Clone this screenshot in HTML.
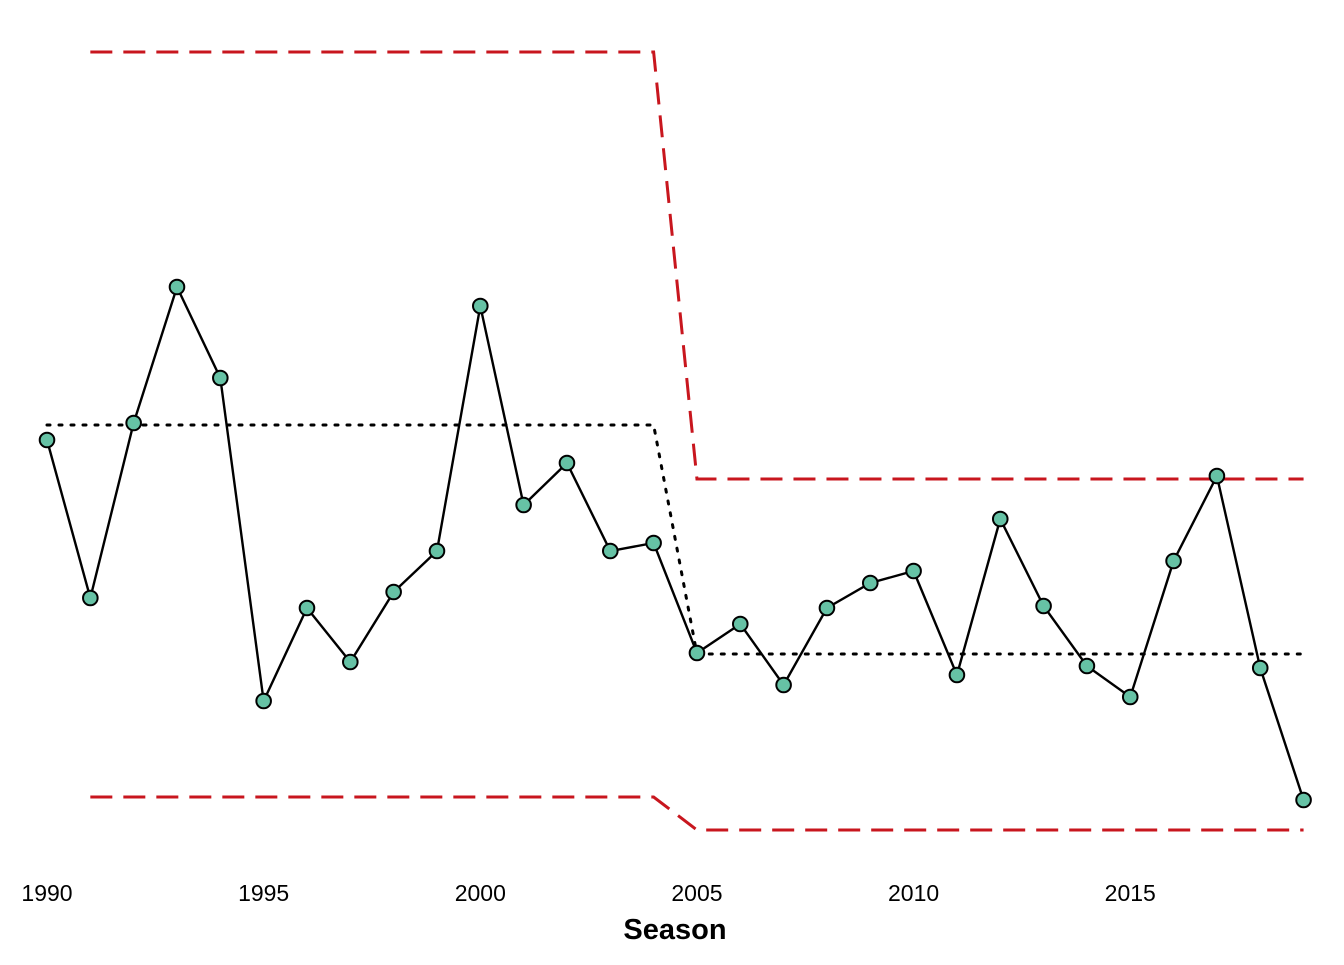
<!DOCTYPE html>
<html><head><meta charset="utf-8"><style>
html,body{margin:0;padding:0;background:#fff}
svg text{font-family:"Liberation Sans",Arial,sans-serif}
</style></head><body>
<svg id="chart" width="1344" height="960" xmlns="http://www.w3.org/2000/svg"></svg>
<script>
const seasons=[1990,1991,1992,1993,1994,1995,1996,1997,1998,1999,2000,2001,2002,2003,2004,2005,2006,2007,2008,2009,2010,2011,2012,2013,2014,2015,2016,2017,2018,2019];
const values=[46.0,30.2,47.7,61.3,52.2,19.9,29.2,23.8,30.8,34.9,59.4,39.5,43.7,34.9,35.7,24.7,27.6,21.5,29.2,31.7,32.9,22.5,38.1,29.4,23.4,20.3,33.9,42.4,23.2,10.0];
const meanSeasons=[1990,2004,2005,2019];
const meanValues=[47.5,47.5,24.6,24.6];
const uclSeasons=[1991,2004,2005,2019];
const uclValues=[84.8,84.8,42.1,42.1];
const lclSeasons=[1991,2004,2005,2019];
const lclValues=[10.3,10.3,7.0,7.0];
const tickYears=[1990,1995,2000,2005,2010,2015];

const NS="http://www.w3.org/2000/svg";
const svg=document.getElementById('chart');
const x=yr=>47+(yr-1990)*43.33;
const y=v=>900-v*10;
function el(tag,attrs){const e=document.createElementNS(NS,tag);for(const k in attrs)e.setAttribute(k,attrs[k]);svg.appendChild(e);return e;}
function pts(xs,vs){return xs.map((s,i)=>x(s)+','+y(vs[i])).join(' ');}

let e;
e=el('polyline',{points:pts(uclSeasons,uclValues),fill:'none',stroke:'#c8161e','stroke-width':3,'stroke-dasharray':'22,11'});


e=el('polyline',{points:pts(lclSeasons,lclValues),fill:'none',stroke:'#c8161e','stroke-width':3,'stroke-dasharray':'22,11'});


e=el('polyline',{points:pts(meanSeasons,meanValues),fill:'none',stroke:'#000','stroke-width':3,'stroke-dasharray':'3,9','stroke-linecap':'round'});


e=el('polyline',{points:pts(seasons,values),fill:'none',stroke:'#000','stroke-width':2.4});


seasons.forEach((s,i)=>{
  const c=el('circle',{cx:x(s),cy:y(values[i]),r:7.3,fill:'#66c2a5',stroke:'#000','stroke-width':2});
  
  
});
tickYears.forEach(t=>{
  const tx=el('text',{x:x(t),y:901,'text-anchor':'middle','font-size':23,fill:'#000'});
  tx.textContent=t;
  
  
});
e=el('text',{x:675,y:939,'text-anchor':'middle','font-size':29,'font-weight':'bold',fill:'#000'});
e.textContent='Season';


</script>
</body></html>
